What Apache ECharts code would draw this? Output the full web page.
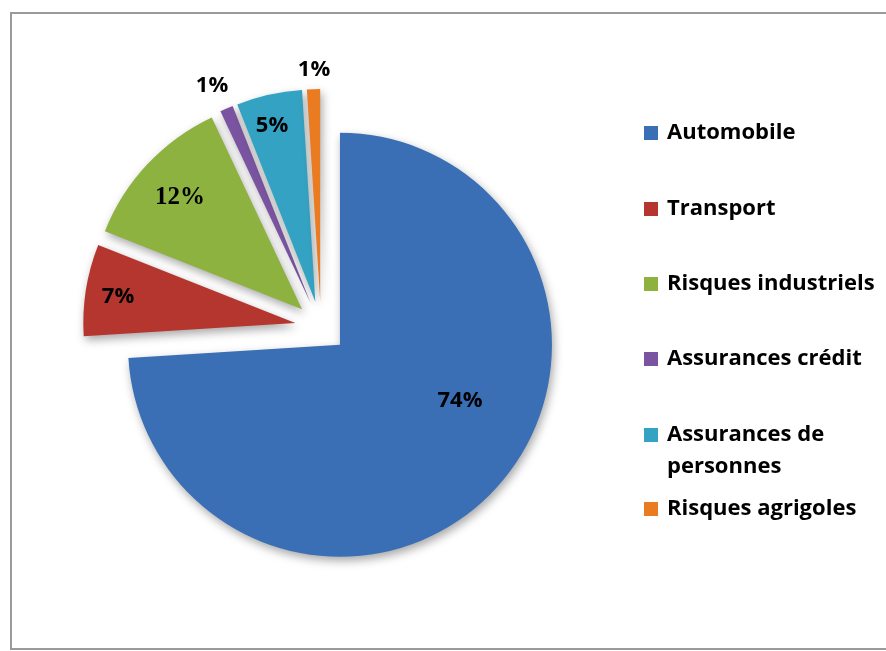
<!DOCTYPE html>
<html>
<head>
<meta charset="utf-8">
<script src="https://cdn.jsdelivr.net/npm/echarts@6/dist/echarts.min.js"></script>
<style>
  html, body { margin: 0; padding: 0; background: #fff; }
  #chart { width: 886px; height: 651px; }
</style>
</head>
<body>
<div id="chart"></div>
<script>
// data
const categories = ['Automobile', 'Transport', 'Risques industriels', 'Assurances crédit', 'Assurances de personnes', 'Risques agrigoles'];
const shares = [74, 7, 12, 1, 5, 1];
const labelTexts = ['74%', '7%', '12%', '1%', '5%', '1%'];

// styling
const colors = ['#3B6FB5', '#B5352F', '#8DB240', '#7A54A0', '#34A2C2', '#EB7B20'];
const labelXY = [[460, 401], [118, 297], [180, 198], [212, 86], [272, 126], [314, 70]];
const legendCenters = [133, 209, 284, 359, 435, 509];

const sansBold = { fontFamily: '"Open Sans"', fontWeight: 'bold', fontSize: 22, color: '#000' };

let chart = echarts.init(document.getElementById('chart'));

const legends = categories.map((name, i) => {
  const wrapped = name === 'Assurances de personnes';
  return {
    data: [name],
    orient: 'vertical',
    left: 644,
    top: legendCenters[i] - (wrapped ? 48 : 16),
    padding: 0,
    icon: 'rect',
    itemWidth: 14,
    itemHeight: 14,
    selectedMode: false,
    itemStyle: { shadowBlur: 0, borderWidth: 0 },
    formatter: wrapped ? () => '\nAssurances de\npersonnes' : '{name}',
    textStyle: Object.assign({}, sansBold, { lineHeight: 32, padding: [0, 0, 0, 4] })
  };
});

// percentage labels sit where the original placed them
const labelGraphics = labelTexts.map((txt, i) => ({
  type: 'text',
  x: labelXY[i][0],
  y: labelXY[i][1],
  z: 10,
  style: Object.assign({
    text: txt,
    align: 'center',
    verticalAlign: 'middle',
    font: i === 2 ? 'bold 25px "Liberation Serif"' : 'bold 22px "Open Sans"',
    fill: '#000'
  })
}));

chart.setOption({
  animation: false,
  graphic: [{
    type: 'rect',
    shape: { x: 11, y: 13, width: 900, height: 636 },
    style: { fill: 'none', stroke: '#9a9a9a', lineWidth: 2 },
    z: -1
  }].concat(labelGraphics),
  legend: legends,
  series: [{
    type: 'pie',
    center: [321, 327],
    radius: 212,
    startAngle: 90,
    clockwise: true,
    selectedMode: 'multiple',
    selectedOffset: 26,
    avoidLabelOverlap: false,
    emphasis: { disabled: true },
    itemStyle: {
      shadowBlur: 10,
      shadowOffsetX: 2,
      shadowOffsetY: 4,
      shadowColor: 'rgba(0,0,0,0.35)'
    },
    label: { show: false },
    labelLine: { show: false },
    data: categories.map((name, i) => ({
      name: name,
      value: shares[i],
      selected: true,
      selectedOffset: i === 0 ? 31 : 26,
      itemStyle: { color: colors[i] }
    }))
  }]
});
</script>
</body>
</html>
